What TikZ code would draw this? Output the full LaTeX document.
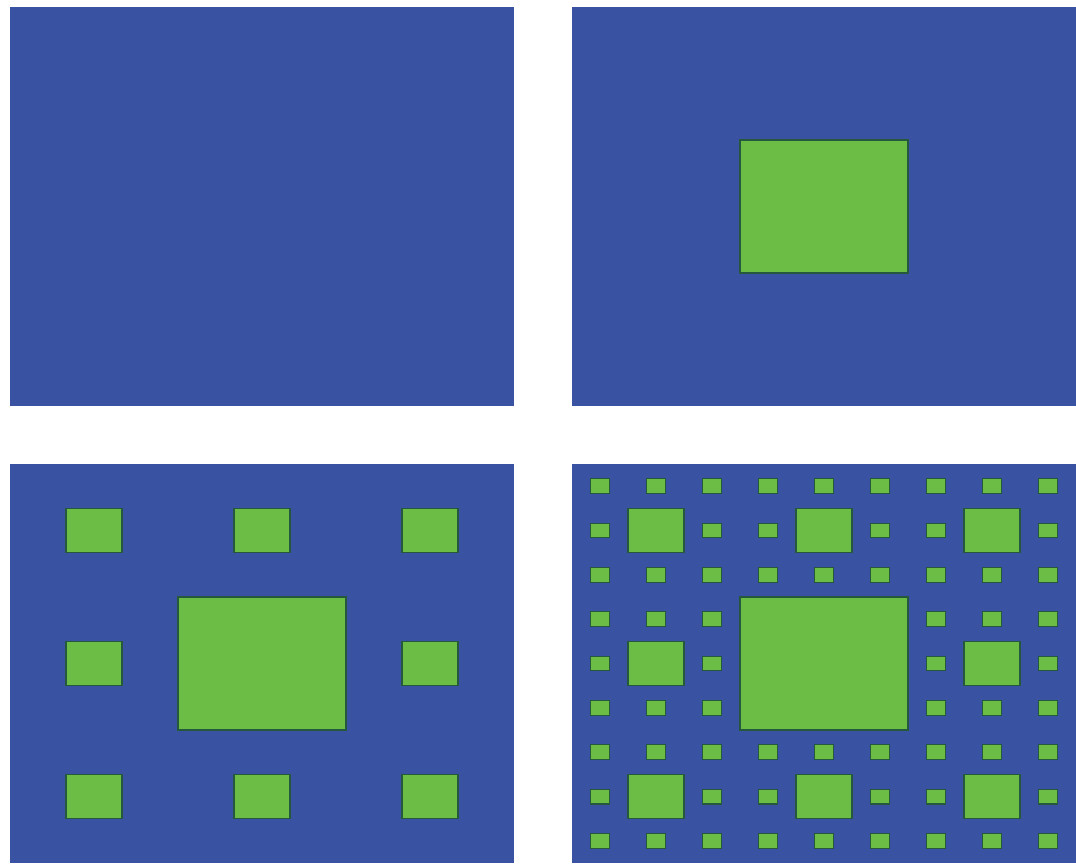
\documentclass[tikz,border=0pt]{standalone}
\usepackage{tikz}
\definecolor{carpetblue}{RGB}{58,82,162}
\definecolor{holegreen}{RGB}{108,189,69}
\definecolor{holeedge}{RGB}{38,88,62}

\begin{document}
\begin{tikzpicture}[x=1pt, y=-1pt,
    panel/.style={fill=carpetblue, draw=none},
    hole/.style={fill=holegreen, draw=holeedge, line width=1.2pt}]
    \def\W{504}
    \def\H{399}
    \useasboundingbox (0,0) rectangle (1076,865);

    % Bước 0: hình chữ nhật đặc
    \begin{scope}[shift={(10,7)}]
        \fill[panel] (0,0) rectangle (\W,\H);
    \end{scope}

    % Bước 1: khoét ô giữa
    \begin{scope}[shift={(572,7)}]
        \fill[panel] (0,0) rectangle (\W,\H);
        \draw[hole] (\W/3,\H/3) rectangle ++(\W/3,\H/3);
    \end{scope}

    % Bước 2: thêm 8 ô nhỏ
    \begin{scope}[shift={(10,464)}]
        \fill[panel] (0,0) rectangle (\W,\H);
        \draw[hole] (\W/3,\H/3) rectangle ++(\W/3,\H/3);
        \foreach \i in {0,1,2}{
            \foreach \j in {0,1,2}{
                \pgfmathtruncatemacro\gone{(\i==1 && \j==1)}
                \ifnum\gone=0
                    \draw[hole] ({\i*\W/3+\W/9},{\j*\H/3+\H/9}) rectangle ++(\W/9,\H/9);
                \fi
            }
        }
    \end{scope}

    % Bước 3: thêm 64 ô nhỏ hơn
    \begin{scope}[shift={(572,464)}]
        \fill[panel] (0,0) rectangle (\W,\H);
        \draw[hole] (\W/3,\H/3) rectangle ++(\W/3,\H/3);
        \foreach \i in {0,1,2}{
            \foreach \j in {0,1,2}{
                \pgfmathtruncatemacro\gone{(\i==1 && \j==1)}
                \ifnum\gone=0
                    \draw[hole] ({\i*\W/3+\W/9},{\j*\H/3+\H/9}) rectangle ++(\W/9,\H/9);
                \fi
            }
        }
        \foreach \i in {0,...,8}{
            \foreach \j in {0,...,8}{
                \pgfmathtruncatemacro\gone{(mod(\i,3)==1 && mod(\j,3)==1) || (int(\i/3)==1 && int(\j/3)==1)}
                \ifnum\gone=0
                    \draw[hole] ({\i*\W/9+\W/27},{\j*\H/9+\H/27}) rectangle ++(\W/27,\H/27);
                \fi
            }
        }
    \end{scope}
\end{tikzpicture}
\end{document}
